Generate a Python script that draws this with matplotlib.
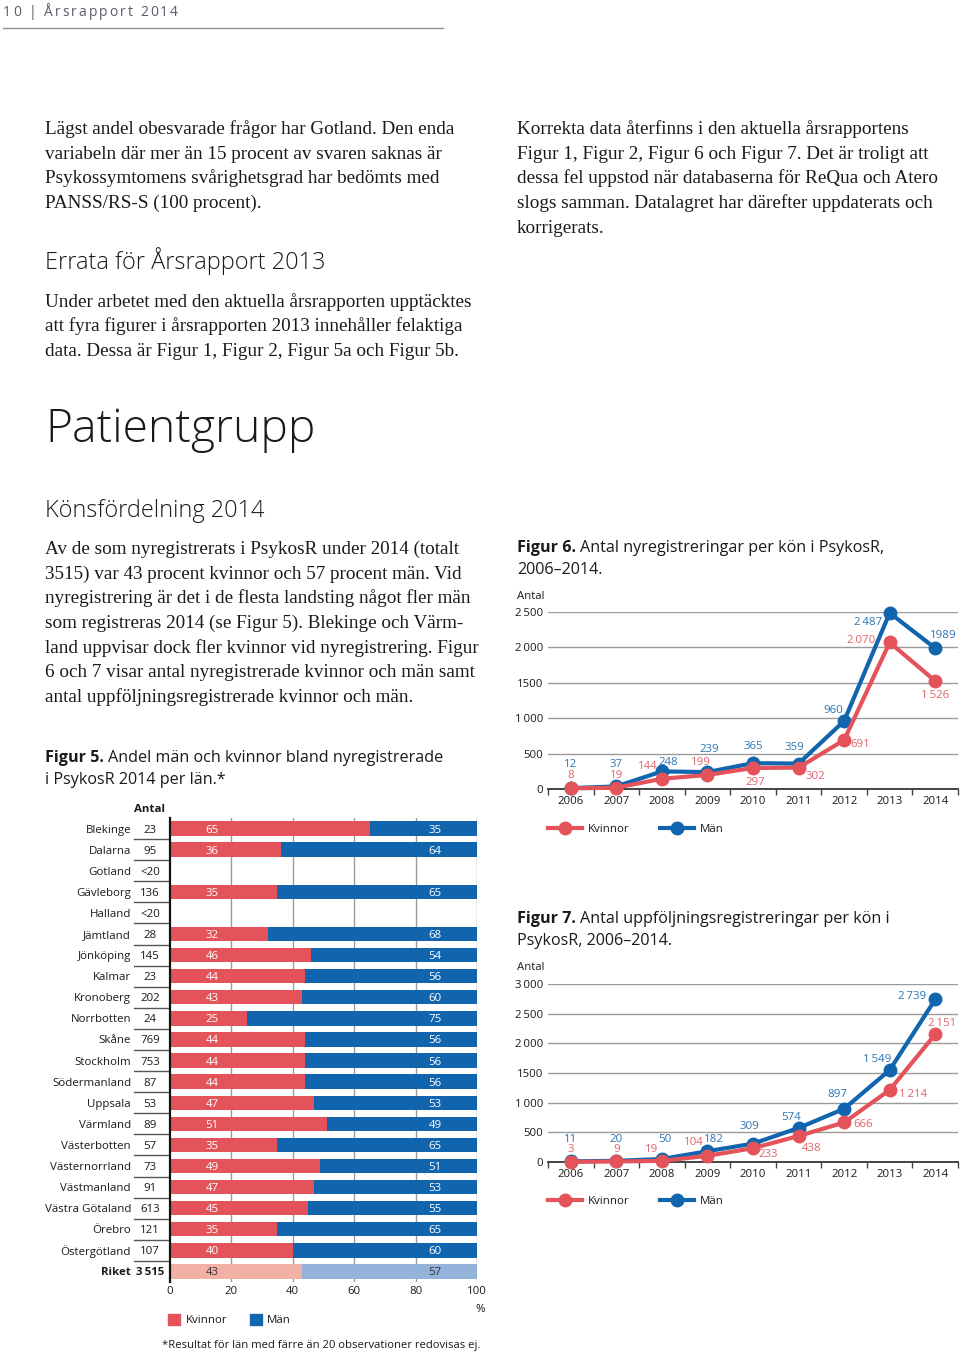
import matplotlib
matplotlib.use("Agg")
import matplotlib.pyplot as plt
from matplotlib.lines import Line2D
from matplotlib.patches import Rectangle
import matplotlib.transforms as mtransforms

W, H = 960, 1354
SANS = ['Open Sans', 'DejaVu Sans']
SERIF = ['Liberation Serif', 'DejaVu Serif']

# ---------------- data ----------------
lan = ['Blekinge', 'Dalarna', 'Gotland', 'Gävleborg', 'Halland', 'Jämtland',
       'Jönköping', 'Kalmar', 'Kronoberg', 'Norrbotten', 'Skåne', 'Stockholm',
       'Södermanland', 'Uppsala', 'Värmland', 'Västerbotten', 'Västernorrland',
       'Västmanland', 'Västra Götaland', 'Örebro', 'Östergötland', 'Riket']
antal = ['23', '95', '<20', '136', '<20', '28', '145', '23', '202', '24', '769',
         '753', '87', '53', '89', '57', '73', '91', '613', '121', '107', '3\u2009515']
andel_kvinnor = [65, 36, None, 35, None, 32, 46, 44, 43, 25, 44, 44, 44, 47, 51,
                 35, 49, 47, 45, 35, 40, 43]
andel_man = [35, 64, None, 65, None, 68, 54, 56, 60, 75, 56, 56, 56, 53, 49,
             65, 51, 53, 55, 65, 60, 57]

years = ['2006', '2007', '2008', '2009', '2010', '2011', '2012', '2013', '2014']
nyreg_kvinnor = [8, 19, 144, 199, 297, 302, 691, 2070, 1526]
nyreg_man = [12, 37, 248, 239, 365, 359, 960, 2487, 1989]
uppf_kvinnor = [3, 9, 19, 104, 233, 438, 666, 1214, 2151]
uppf_man = [11, 20, 50, 182, 309, 574, 897, 1549, 2739]

yticks6 = [0, 500, 1000, 1500, 2000, 2500]
yticks7 = [0, 500, 1000, 1500, 2000, 2500, 3000]
xticks5 = [0, 20, 40, 60, 80, 100]

# ---------------- styles ----------------
RED = '#E4535A'
BLUE = '#1165AF'
RED_L = '#F3B1A6'
BLUE_L = '#94B3DB'
RED_T = '#E0636B'
BLUE_T = '#2C74B4'
TXT = '#1a1a1a'
GRID = '#9a9a9a'


def fmt(v):
    s = str(v)
    if len(s) > 3:
        s = s[:-3] + '\u2009' + s[-3:]
    return s


def tick_fmt(v):
    if v == 1500:
        return '1500'
    return fmt(v)


fig = plt.figure(figsize=(W / 100, H / 100), dpi=100)
fig.patch.set_facecolor('white')
renderer = fig.canvas.get_renderer()


def fx(x):
    return x / W


def fy(y):
    return 1 - y / H


def text_px(x, y, s, **kw):
    kw.setdefault('color', TXT)
    return fig.text(fx(x), fy(y), s, **kw)


def width_px(s, **kw):
    t = fig.text(0, 0, s, **kw)
    w = t.get_window_extent(renderer).width
    t.remove()
    return w


def fit(s, target, **kw):
    return 10 * target / width_px(s, fontsize=10, **kw)


def add_ax(x0, y0, x1, y1):
    return fig.add_axes([x0 / W, 1 - y1 / H, (x1 - x0) / W, (y1 - y0) / H])


# font sizes fitted to measured widths
fs_body = fit('Lägst andel obesvarade frågor har Gotland. Den enda', 410, family=SERIF)
fs_h2 = fit('Errata för Årsrapport 2013', 281, family=SANS, weight='light')
fs_h1 = fit('Patientgrupp', 270, family=SANS, weight='light')
fs_ftitle = fit('Figur 5. Andel män och kvinnor bland nyregistrerade', 394, family=SANS)
fs_small = fit('Västra Götaland', 86, family=SANS)
fs_tick = fit('2006', 26, family=SANS)
fs_foot = fit('*Resultat för län med färre än 20 observationer redovisas ej.', 318, family=SANS)

# ---------------- header (letter-spaced) ----------------
header = '10 | Årsrapport 2014'
fs_head = 10
nat = sum(width_px(c, family=SANS, fontsize=fs_head) for c in header)
gap = (175 - nat) / (len(header) - 1)
xc = 3
for c in header:
    text_px(xc, 16, c, family=SANS, fontsize=fs_head, color='#5b5b6b', va='baseline')
    xc += width_px(c, family=SANS, fontsize=fs_head) + gap
fig.add_artist(Line2D([fx(3), fx(443)], [fy(28), fy(28)], color='#9090a0', lw=1))

# ---------------- body text ----------------
para1 = ['Lägst andel obesvarade frågor har Gotland. Den enda',
         'variabeln där mer än 15 procent av svaren saknas är',
         'Psykossymtomens svårighetsgrad har bedömts med',
         'PANSS/RS-S (100 procent).']
for y, s in zip([126, 151, 175, 200], para1):
    text_px(45, y + 8, s, family=SERIF, fontsize=fs_body, va='baseline')

text_px(45, 269, 'Errata för Årsrapport 2013', family=SANS, weight='light',
        fontsize=fs_h2, va='baseline')

para2 = ['Under arbetet med den aktuella årsrapporten upptäcktes',
         'att fyra figurer i årsrapporten 2013 innehåller felaktiga',
         'data. Dessa är Figur 1, Figur 2, Figur 5a och Figur 5b.']
for y, s in zip([299, 323, 348], para2):
    text_px(45, y + 8, s, family=SERIF, fontsize=fs_body, va='baseline')

para_r = ['Korrekta data återfinns i den aktuella årsrapportens',
          'Figur 1, Figur 2, Figur 6 och Figur 7. Det är troligt att',
          'dessa fel uppstod när databaserna för ReQua och Atero',
          'slogs samman. Datalagret har därefter uppdaterats och',
          'korrigerats.']
for y, s in zip([126, 151, 175, 200, 225], para_r):
    text_px(517, y + 8, s, family=SERIF, fontsize=fs_body, va='baseline')

text_px(45, 442, 'Patientgrupp', family=SANS, weight='light', fontsize=fs_h1, va='baseline')
text_px(45, 517, 'Könsfördelning 2014', family=SANS, weight='light', fontsize=fs_h2,
        va='baseline')

para3 = ['Av de som nyregistrerats i PsykosR under 2014 (totalt',
         '3515) var 43 procent kvinnor och 57 procent män. Vid',
         'nyregistrering är det i de flesta landsting något fler män',
         'som registreras 2014 (se Figur 5). Blekinge och Värm-',
         'land uppvisar dock fler kvinnor vid nyregistrering. Figur',
         '6 och 7 visar antal nyregistrerade kvinnor och män samt',
         'antal uppföljningsregistrerade kvinnor och män.']
for y, s in zip([546, 571, 595, 620, 645, 669, 694], para3):
    text_px(45, y + 8, s, family=SERIF, fontsize=fs_body, va='baseline')


def fig_title(x, y, bold, rest_lines):
    t = text_px(x, y, bold, family=SANS, weight='bold', fontsize=fs_ftitle, va='baseline')
    w = t.get_window_extent(renderer).width
    sp = width_px(' ', family=SANS, fontsize=fs_ftitle)
    text_px(x + w + sp, y, rest_lines[0], family=SANS, fontsize=fs_ftitle, va='baseline')
    for k, s in enumerate(rest_lines[1:]):
        text_px(x, y + 22 * (k + 1), s, family=SANS, fontsize=fs_ftitle, va='baseline')


fig_title(45, 762, 'Figur 5.', ['Andel män och kvinnor bland nyregistrerade',
                                'i PsykosR 2014 per län.*'])
fig_title(517, 552, 'Figur 6.', ['Antal nyregistreringar per kön i PsykosR,',
                                 '2006\u20132014.'])
fig_title(517, 923, 'Figur 7.', ['Antal uppföljningsregistreringar per kön i',
                                 'PsykosR, 2006\u20132014.'])

# ---------------- Figure 5: stacked bars ----------------
ax5 = add_ax(170, 818, 477, 1282)
n = len(lan)
ypos = list(range(n))
ax5.set_xlim(0, 100)
ax5.set_ylim(n - 0.5, -0.5)
for x in xticks5[1:]:
    ax5.axvline(x, color=GRID, lw=1, zorder=0)
for i in ypos:
    kv = andel_kvinnor[i]
    mn = andel_man[i]
    if kv is None:
        continue
    riket = lan[i] == 'Riket'
    ax5.barh(i, kv, left=0, height=0.68, color=RED_L if riket else RED, zorder=2)
    ax5.barh(i, mn, left=kv, height=0.68, color=BLUE_L if riket else BLUE, zorder=2)
    tc = '#333333' if riket else 'white'
    ax5.text(13.7, i, str(kv), ha='center', va='center_baseline', color=tc,
             family=SANS, fontsize=fs_small, zorder=3)
    ax5.text(86.3, i, str(mn), ha='center', va='center_baseline', color=tc,
             family=SANS, fontsize=fs_small, zorder=3)
for side in ['top', 'right', 'bottom']:
    ax5.spines[side].set_visible(False)
ax5.spines['left'].set_linewidth(1.6)
ax5.spines['left'].set_color('#111111')
ax5.set_xticks(xticks5)
ax5.set_xticklabels([str(v) for v in xticks5], family=SANS, fontsize=fs_tick, color=TXT)
ax5.tick_params(axis='x', length=0, pad=3)
ax5.set_yticks(ypos)
ax5.set_yticklabels(lan, family=SANS, fontsize=fs_small, color=TXT)
ax5.tick_params(axis='y', length=0, pad=28)
ax5.get_yticklabels()[-1].set_fontweight('bold')

blend = mtransforms.blended_transform_factory(fig.transFigure, ax5.transData)
for i in ypos:
    ax5.text(fx(150), i, antal[i], transform=blend, ha='center', va='center_baseline',
             family=SANS, fontsize=fs_small, color=TXT,
             weight='bold' if lan[i] == 'Riket' else 'normal', clip_on=False)
    if i < n - 1:
        ax5.plot([fx(134), fx(168)], [i + 0.5, i + 0.5], transform=blend,
                 color='#555555', lw=1, clip_on=False)
text_px(150, 808, 'Antal', family=SANS, weight='bold', fontsize=fs_small,
        ha='center', va='center_baseline')
text_px(480, 1308, '%', family=SANS, fontsize=fs_tick, ha='center', va='center_baseline')

# legend fig 5
fig.add_artist(Rectangle((fx(168), fy(1325)), 12 / W, 11 / H, color=RED,
                         transform=fig.transFigure))
text_px(186, 1319, 'Kvinnor', family=SANS, fontsize=fs_small, va='center_baseline')
fig.add_artist(Rectangle((fx(250), fy(1325)), 12 / W, 11 / H, color=BLUE,
                         transform=fig.transFigure))
text_px(267, 1319, 'Män', family=SANS, fontsize=fs_small, va='center_baseline')
text_px(162, 1344, '*Resultat för län med färre än 20 observationer redovisas ej.',
        family=SANS, fontsize=fs_foot, va='center_baseline')


# ---------------- Figures 6 & 7: line charts ----------------
def line_chart(box, ytop, yticks, kv, mn, off_kv, off_mn, lab_kv, lab_mn, antal_y, leg_y):
    ax = add_ax(*box)
    x = list(range(len(years)))
    ax.set_xlim(-0.5, len(years) - 0.5)
    ax.set_ylim(0, ytop)
    ax.set_yticks(yticks)
    ax.set_yticklabels([tick_fmt(v) for v in yticks], family=SANS,
                       fontsize=fs_tick, color=TXT)
    ax.tick_params(axis='y', length=0, pad=3.6)
    ax.set_xticks(x)
    ax.set_xticklabels(years, family=SANS, fontsize=fs_tick, color=TXT)
    ax.set_xticks([v - 0.5 for v in range(len(years) + 1)], minor=True)
    ax.tick_params(axis='x', which='major', length=0, pad=5)
    ax.tick_params(axis='x', which='minor', length=4, width=1, color='#444444',
                   direction='out')
    ax.yaxis.grid(True, color=GRID, lw=1)
    ax.set_axisbelow(True)
    for side in ['top', 'right', 'left']:
        ax.spines[side].set_visible(False)
    ax.spines['bottom'].set_color('#444444')
    ax.spines['bottom'].set_linewidth(1.4)
    ax.plot(x, mn, color=BLUE, lw=3, marker='o', ms=9, clip_on=False, zorder=3,
            solid_joinstyle='round')
    ax.plot(x, kv, color=RED, lw=3, marker='o', ms=9, clip_on=False, zorder=4,
            solid_joinstyle='round')
    for i in x:
        ax.annotate(lab_mn[i], (i, mn[i]), xytext=off_mn[i], textcoords='offset pixels',
                    ha='center', va='center_baseline', color=BLUE_T, family=SANS,
                    fontsize=fs_small, zorder=5)
        ax.annotate(lab_kv[i], (i, kv[i]), xytext=off_kv[i], textcoords='offset pixels',
                    ha='center', va='center_baseline', color=RED_T, family=SANS,
                    fontsize=fs_small, zorder=5)
    text_px(517, antal_y, 'Antal', family=SANS, fontsize=fs_tick, va='center_baseline')
    # legend
    for (x0, x1, col, lab) in [(548, 582, RED, 'Kvinnor'), (660, 694, BLUE, 'Män')]:
        fig.add_artist(Line2D([fx(x0), fx(x1)], [fy(leg_y), fy(leg_y)], color=col, lw=3))
        fig.add_artist(Line2D([fx((x0 + x1) / 2)], [fy(leg_y)], color=col, marker='o',
                              ms=9, lw=0))
        text_px(x1 + 6, leg_y, lab, family=SANS, fontsize=fs_small, va='center_baseline')
    return ax


off6_man = [(0, 25), (0, 23), (6, 10), (2, 24), (0, 18), (-4, 18), (-11, 12), (-22, -8), (8, 14)]
off6_kv = [(0, 14), (0, 14), (-14, 14), (-7, 14), (2, -13), (17, -7), (16, -3), (-29, 3), (0, -13)]
lab6_man = [fmt(v) for v in nyreg_man]
lab6_man[-1] = str(nyreg_man[-1])
lab6_kv = [fmt(v) for v in nyreg_kvinnor]
line_chart((548, 612, 958, 789), 2500, yticks6, nyreg_kvinnor, nyreg_man,
           off6_kv, off6_man, lab6_kv, lab6_man, 595, 828)

off7_man = [(0, 23), (0, 23), (3, 21), (6, 13), (-4, 19), (-7, 12), (-7, 16), (-13, 12), (-23, 4)]
off7_kv = [(0, 14), (0, 13), (-10, 13), (-14, 15), (15, -5), (13, -11), (19, -1), (23, -3), (7, 12)]
line_chart((548, 984, 958, 1162), 3000, yticks7, uppf_kvinnor, uppf_man,
           off7_kv, off7_man, [fmt(v) for v in uppf_kvinnor], [fmt(v) for v in uppf_man],
           966, 1200)

fig.savefig('out.png', dpi=100, facecolor='white')
